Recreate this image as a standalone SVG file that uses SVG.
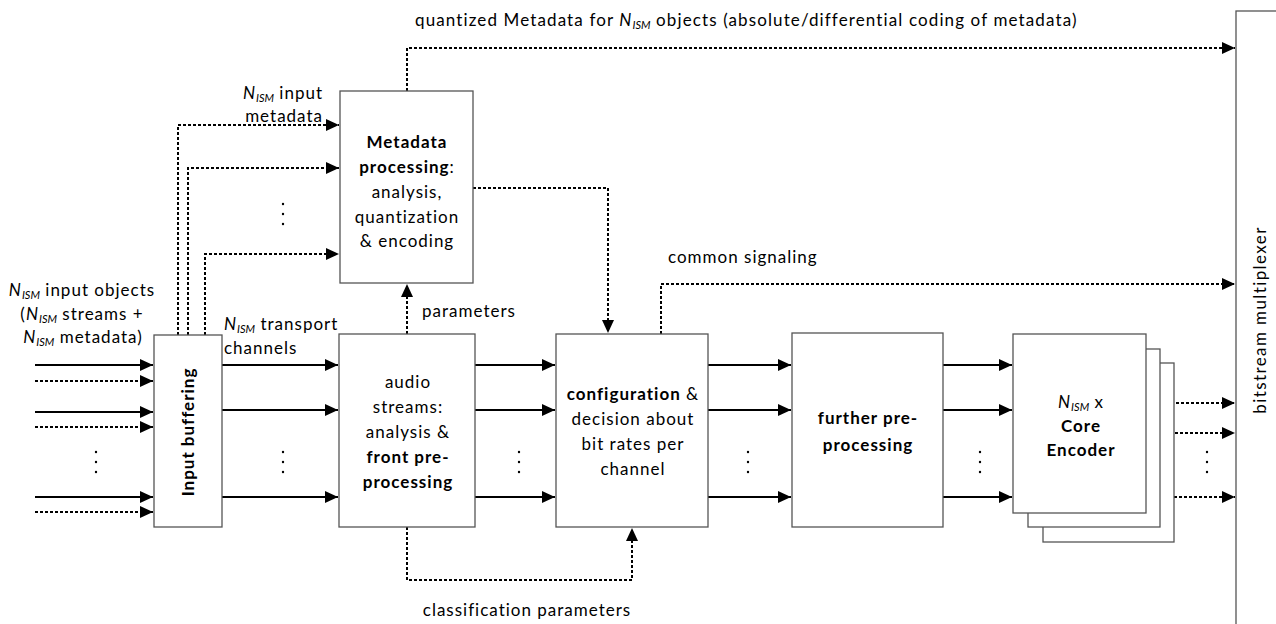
<svg xmlns="http://www.w3.org/2000/svg" width="1276" height="624" viewBox="0 0 1276 624">
<style>
text{font-family:Lato,"Open Sans","Liberation Sans",sans-serif;font-size:17px;letter-spacing:1px;fill:#000}
.b{font-weight:bold}
.i{font-style:italic}
.s{font-style:italic;font-size:11px;letter-spacing:0}
.box{fill:#fff;stroke:#555;stroke-width:1.3}
.sol{fill:none;stroke:#000;stroke-width:2}
.dsh{fill:none;stroke:#000;stroke-width:2;stroke-dasharray:3 2}
.dot{fill:#000}
</style>
<defs>
<marker id="ah" markerUnits="userSpaceOnUse" markerWidth="13" markerHeight="12" refX="13" refY="6" orient="auto">
<path d="M0,0 L13,6 L0,12 z" fill="#000" stroke="none"/>
</marker>
</defs>
<rect width="1276" height="624" fill="#fff"/>

<g id="connectors">
<path class="sol" d="M35,365H153" marker-end="url(#ah)"/>
<path class="dsh" d="M35,381H153" marker-end="url(#ah)"/>
<path class="sol" d="M35,412H153" marker-end="url(#ah)"/>
<path class="dsh" d="M35,427H153" marker-end="url(#ah)"/>
<path class="sol" d="M35,497H153" marker-end="url(#ah)"/>
<path class="dsh" d="M35,512H153" marker-end="url(#ah)"/>
<path class="dsh" d="M178,335V125H339" marker-end="url(#ah)"/>
<path class="dsh" d="M188,335V168H339" marker-end="url(#ah)"/>
<path class="dsh" d="M205,335V254H339" marker-end="url(#ah)"/>
<path class="sol" d="M222,365H338" marker-end="url(#ah)"/>
<path class="sol" d="M222,410H338" marker-end="url(#ah)"/>
<path class="sol" d="M222,497H338" marker-end="url(#ah)"/>
<path class="sol" d="M475,365H555" marker-end="url(#ah)"/>
<path class="sol" d="M475,410H555" marker-end="url(#ah)"/>
<path class="sol" d="M475,497H555" marker-end="url(#ah)"/>
<path class="sol" d="M708,365H791" marker-end="url(#ah)"/>
<path class="sol" d="M708,410H791" marker-end="url(#ah)"/>
<path class="sol" d="M708,497H791" marker-end="url(#ah)"/>
<path class="sol" d="M943,365H1012" marker-end="url(#ah)"/>
<path class="sol" d="M943,410H1012" marker-end="url(#ah)"/>
<path class="sol" d="M943,497H1012" marker-end="url(#ah)"/>
<path class="dsh" d="M1146,403H1235" marker-end="url(#ah)"/>
<path class="dsh" d="M1160,433H1235" marker-end="url(#ah)"/>
<path class="dsh" d="M1174,497H1235" marker-end="url(#ah)"/>
<path class="dsh" d="M407,91V48H1235" marker-end="url(#ah)"/>
<path class="dsh" d="M473,188H608V333" marker-end="url(#ah)"/>
<path class="dsh" d="M661,334V284H1235" marker-end="url(#ah)"/>
<path class="dsh" d="M407,334V284" marker-end="url(#ah)"/>
<path class="dsh" d="M407,527V580H632V528" marker-end="url(#ah)"/>
<g class="dot">
<circle cx="96" cy="452" r="1.2"/><circle cx="96" cy="462" r="1.2"/><circle cx="96" cy="472" r="1.2"/>
<circle cx="283" cy="204" r="1.2"/><circle cx="283" cy="214" r="1.2"/><circle cx="283" cy="224" r="1.2"/>
<circle cx="283" cy="452" r="1.2"/><circle cx="283" cy="462" r="1.2"/><circle cx="283" cy="472" r="1.2"/>
<circle cx="519" cy="452" r="1.2"/><circle cx="519" cy="462" r="1.2"/><circle cx="519" cy="472" r="1.2"/>
<circle cx="748" cy="452" r="1.2"/><circle cx="748" cy="462" r="1.2"/><circle cx="748" cy="472" r="1.2"/>
<circle cx="980" cy="452" r="1.2"/><circle cx="980" cy="462" r="1.2"/><circle cx="980" cy="472" r="1.2"/>
<circle cx="1207" cy="452" r="1.2"/><circle cx="1207" cy="462" r="1.2"/><circle cx="1207" cy="472" r="1.2"/>
</g>
</g>

<g id="labels">
<text x="415" y="26" style="letter-spacing:1.12px"><tspan>quantized Metadata for </tspan><tspan class="i">N</tspan><tspan class="s" dy="3">ISM</tspan><tspan dy="-3"> objects (absolute/differential coding of metadata)</tspan></text>
<text x="323" y="99" text-anchor="end"><tspan class="i">N</tspan><tspan class="s" dy="3">ISM</tspan><tspan dy="-3"> input</tspan></text>
<text x="323" y="122" text-anchor="end">metadata</text>
<text x="82" y="296" text-anchor="middle"><tspan class="i">N</tspan><tspan class="s" dy="3">ISM</tspan><tspan dy="-3"> input objects</tspan></text>
<text x="82" y="320" text-anchor="middle"><tspan>(</tspan><tspan class="i">N</tspan><tspan class="s" dy="3">ISM</tspan><tspan dy="-3"> streams +</tspan></text>
<text x="83" y="343" text-anchor="middle"><tspan class="i">N</tspan><tspan class="s" dy="3">ISM</tspan><tspan dy="-3"> metadata)</tspan></text>
<text x="224" y="330"><tspan class="i">N</tspan><tspan class="s" dy="3">ISM</tspan><tspan dy="-3"> transport</tspan></text>
<text x="224" y="354">channels</text>
<text x="422" y="317">parameters</text>
<text x="668" y="263">common signaling</text>
<text x="527" y="616" text-anchor="middle">classification parameters</text>
</g>

<g id="input-buffering">
<rect class="box" x="154" y="335" width="68" height="192"/>
<text class="b" transform="translate(194,432) rotate(-90)" text-anchor="middle">Input buffering</text>
</g>

<g id="metadata-processing">
<rect class="box" x="340" y="91" width="133" height="192"/>
<text x="407" y="148" text-anchor="middle" class="b">Metadata</text>
<text x="407" y="173" text-anchor="middle"><tspan class="b">processing</tspan>:</text>
<text x="407" y="198" text-anchor="middle">analysis,</text>
<text x="407" y="223" text-anchor="middle">quantization</text>
<text x="407" y="247" text-anchor="middle">&amp; encoding</text>
</g>

<g id="audio-streams">
<rect class="box" x="339" y="334" width="136" height="193"/>
<text x="408" y="388" text-anchor="middle">audio</text>
<text x="408" y="413" text-anchor="middle">streams:</text>
<text x="408" y="438" text-anchor="middle">analysis &amp;</text>
<text x="408" y="463" text-anchor="middle" class="b">front pre-</text>
<text x="408" y="488" text-anchor="middle" class="b">processing</text>
</g>

<g id="configuration">
<rect class="box" x="556" y="334" width="152" height="193"/>
<text x="633" y="400" text-anchor="middle"><tspan class="b">configuration</tspan> &amp;</text>
<text x="633" y="425" text-anchor="middle">decision about</text>
<text x="633" y="450" text-anchor="middle">bit rates per</text>
<text x="633" y="475" text-anchor="middle">channel</text>
</g>

<g id="further-preprocessing">
<rect class="box" x="792" y="333" width="151" height="194"/>
<text x="868" y="424" text-anchor="middle" class="b">further pre-</text>
<text x="868" y="451" text-anchor="middle" class="b">processing</text>
</g>

<g id="core-encoder">
<rect class="box" x="1043" y="363" width="131" height="179"/>
<rect class="box" x="1028" y="349" width="132" height="178"/>
<rect class="box" x="1013" y="334" width="133" height="179"/>
<text x="1081" y="408" text-anchor="middle"><tspan class="i">N</tspan><tspan class="s" dy="3">ISM</tspan><tspan dy="-3"> x</tspan></text>
<text x="1081" y="432" text-anchor="middle" class="b">Core</text>
<text x="1081" y="456" text-anchor="middle" class="b">Encoder</text>
</g>

<g id="bitstream-multiplexer">
<rect class="box" x="1236" y="11" width="60" height="660"/>
<text transform="translate(1266,320) rotate(-90)" text-anchor="middle" style="letter-spacing:1.4px">bitstream multiplexer</text>
</g>
</svg>
